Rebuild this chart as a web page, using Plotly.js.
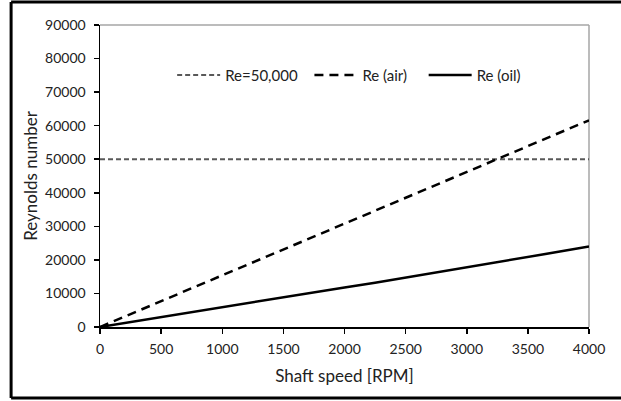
<!DOCTYPE html>
<html>
<head>
<meta charset="utf-8">
<script src="https://cdn.plot.ly/plotly-3.0.1.min.js"></script>
<style>
html,body{margin:0;padding:0;background:#fff;}
#chart{width:621px;height:401px;}
</style>
</head>
<body>
<div id="chart"></div>
<script>
const speedRPM = [0, 250, 500, 750, 1000, 1250, 1500, 1750, 2000, 2250, 2500, 2750, 3000, 3250, 3500, 3750, 4000];
const reAir = [0, 3850, 7700, 11550, 15400, 19250, 23100, 26950, 30800, 34650, 38500, 42350, 46200, 50050, 53900, 57750, 61600];
const reOil = [0, 1500, 3000, 4400, 5900, 7300, 8800, 10300, 11800, 13200, 14700, 16200, 17800, 19300, 20800, 22400, 24000];
const reLimitX = [0, 4000];
const reLimit = [50000, 50000];
const seriesNames = ["Re=50,000", "Re (air)", "Re (oil)"];
const xTicks = [0, 500, 1000, 1500, 2000, 2500, 3000, 3500, 4000];
const yTicks = [0, 10000, 20000, 30000, 40000, 50000, 60000, 70000, 80000, 90000];

const font = "Lato, 'Open Sans', sans-serif";

const traces = [
  {x: reLimitX, y: reLimit, name: seriesNames[0], mode: "lines", legend: "legend",
   line: {color: "#595959", width: 2, dash: "5px,3px"}},
  {x: speedRPM, y: reAir, name: seriesNames[1], mode: "lines", legend: "legend2",
   line: {color: "#000000", width: 2.5, dash: "9px,6px"}},
  {x: speedRPM, y: reOil, name: seriesNames[2], mode: "lines", legend: "legend3",
   line: {color: "#000000", width: 2.5}}
];

function legendAt(px) {
  return {orientation: "h", x: (px - 100) / 488, xanchor: "left", y: 0.834, yanchor: "middle",
          bgcolor: "rgba(0,0,0,0)", itemwidth: 43, borderwidth: 0,
          font: {family: font, size: 15, color: "#222"}};
}

const layout = {
  width: 621, height: 401,
  margin: {l: 100, r: 32, t: 25, b: 74},
  paper_bgcolor: "#ffffff", plot_bgcolor: "#ffffff",
  font: {family: font, size: 14, color: "#222222"},
  showlegend: true,
  legend: legendAt(172),
  legend2: legendAt(309),
  legend3: legendAt(423),
  xaxis: {range: [0, 4000], tickvals: xTicks, ticktext: xTicks.map(String),
          showgrid: false, zeroline: false, showline: true, linecolor: "#000", linewidth: 1.5,
          ticks: "outside", ticklen: 5, tickcolor: "#000", tickwidth: 1.5,
          ticklabelstandoff: 4,
          tickfont: {size: 14}, fixedrange: true,
          title: {text: "Shaft speed [RPM]", font: {size: 17, color: "#222"}, standoff: 14}},
  yaxis: {range: [0, 90000], tickvals: yTicks, ticktext: yTicks.map(String),
          showgrid: false, zeroline: false, showline: true, linecolor: "#000", linewidth: 1.5,
          ticks: "outside", ticklen: 5, tickcolor: "#000", tickwidth: 1.5,
          ticklabelstandoff: 5,
          tickfont: {size: 14}, fixedrange: true,
          title: {text: "Reynolds number", font: {size: 17, color: "#222"}, standoff: 3}},
  shapes: [
    {type: "line", xref: "paper", yref: "paper", x0: 0, x1: 1, y0: 1, y1: 1,
     line: {color: "#a6a6a6", width: 1.5}, layer: "below"},
    {type: "line", xref: "paper", yref: "paper", x0: 1, x1: 1, y0: 0, y1: 1,
     line: {color: "#a6a6a6", width: 1.5}, layer: "below"},
    {type: "line", xref: "paper", yref: "paper", x0: -0.1818, x1: -0.1818, y0: -0.2351, y1: 1.0762,
     line: {color: "#000", width: 3}},
    {type: "line", xref: "paper", yref: "paper", x0: -0.1818, x1: 1.2, y0: 1.0762, y1: 1.0762,
     line: {color: "#000", width: 3}},
    {type: "line", xref: "paper", yref: "paper", x0: -0.1818, x1: 1.2, y0: -0.2351, y1: -0.2351,
     line: {color: "#000", width: 3}}
  ]
};

Plotly.newPlot("chart", traces, layout, {displayModeBar: false, staticPlot: true});
</script>
</body>
</html>
